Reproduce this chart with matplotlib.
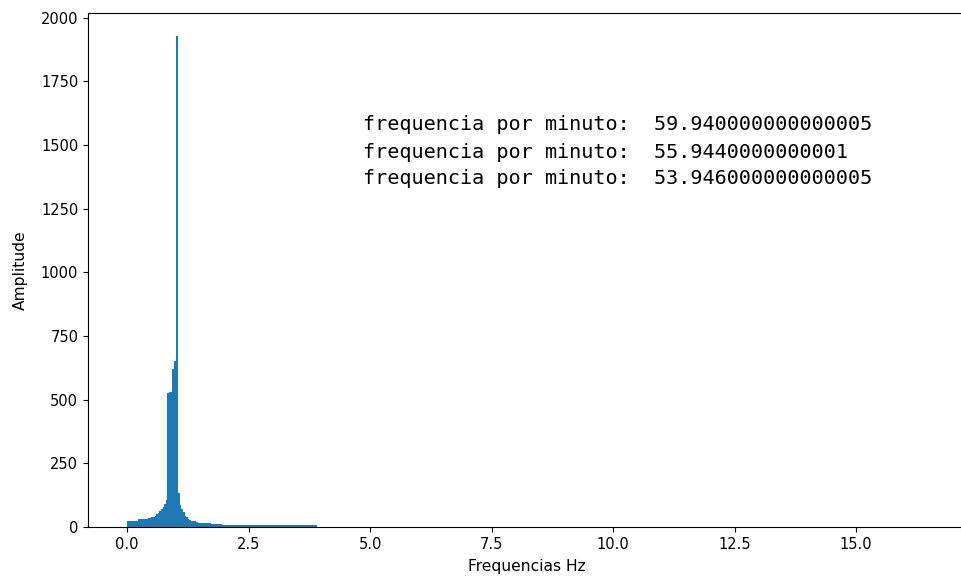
import matplotlib
matplotlib.use('Agg')
import matplotlib.pyplot as plt
import numpy as np

# FFT bin spacing (Hz) and amplitude of each bin from 0 Hz up
df = 0.999 / 30
amplitude = [23, 23, 24, 24, 23, 24, 24,
             30, 30, 30, 31, 30, 31,
             37, 37, 38, 40, 45, 50, 55, 62, 70, 80, 92, 106,
             525, 529, 530, 620, 652, 1930,
             132, 86, 70, 58, 45, 38, 32, 28, 23, 22, 22, 21,
             17, 16, 16, 15, 15, 14, 14, 14, 13, 13, 13, 13, 12, 12, 12,
             8, 8, 8, 8, 8, 8, 8, 8, 8, 8, 7, 7, 7, 7, 7, 7, 7, 7, 7, 7,
             7, 7, 7, 7, 7, 7, 7, 7, 7, 7, 7, 7, 7, 7, 7, 7, 7, 7, 7, 7,
             7, 7, 7, 7, 7, 6, 6, 6, 6, 6, 6, 6, 6, 6, 6, 6, 6, 6, 6]
freqs = np.arange(len(amplitude)) * df

# top peaks converted to beats per minute
bpm_text = ['59.940000000000005', '55.9440000000001', '53.946000000000005']

plt.rcParams['font.size'] = 10.5

fig = plt.figure(figsize=(9.62, 5.76), dpi=100)
# right edge runs just past the figure border
ax = fig.add_axes([88 / 962, 1 - 527 / 576, 878 / 962, 514.5 / 576])

# bars a bit wider than a bin, so each one overlaps the next
ax.bar(freqs, amplitude, width=df * 1.6, align='edge', color='#1f77b4')
ax.set_xlim(-0.802, 17.26)
ax.set_ylim(0, 2021)
ax.set_xticks([0, 2.5, 5, 7.5, 10, 12.5, 15])
ax.set_xlabel('Frequencias Hz', fontsize=11.2, labelpad=5)
ax.set_ylabel('Amplitude', fontsize=11.2, labelpad=9)

for i, val in enumerate(bpm_text):
    fig.text(363 / 962, 1 - (125 + 27 * i) / 576,
             'frequencia por minuto:  ' + val,
             family='DejaVu Sans Mono', fontsize=14.5, va='center')

plt.savefig('out.png', dpi=100)
